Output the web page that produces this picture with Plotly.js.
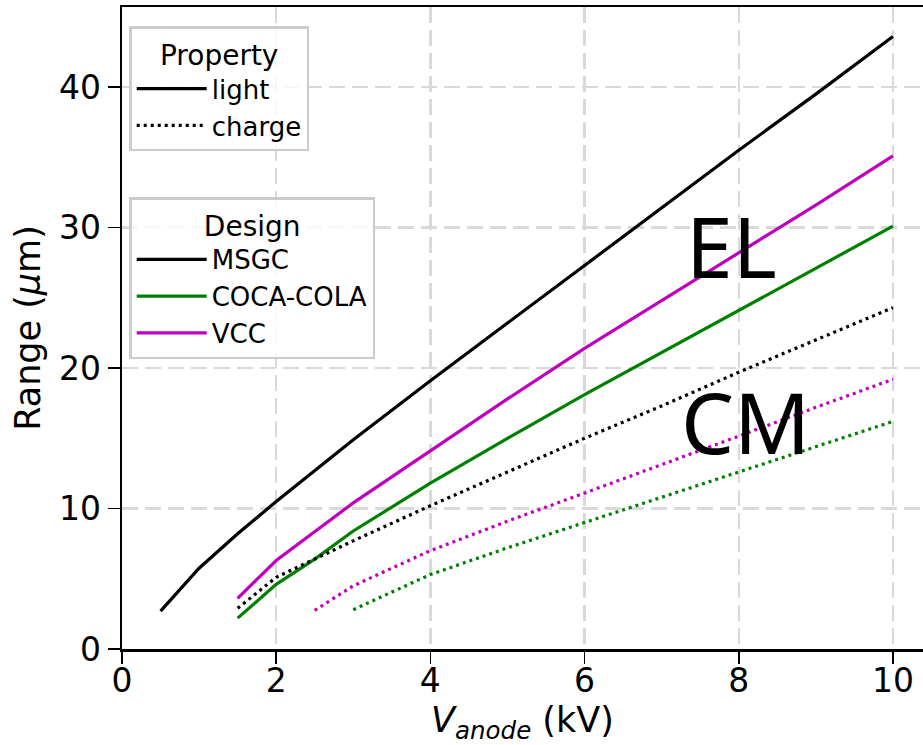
<!DOCTYPE html>
<html>
<head>
<meta charset="utf-8">
<script src="https://cdn.plot.ly/plotly-3.0.1.min.js"></script>
<style>html,body{margin:0;padding:0;background:#fff;overflow:hidden}#chart{width:923px;height:745px}</style>
</head>
<body>
<div id="chart"></div>
<script>
// Data (V_anode in kV, Range in µm)
const msgcLightV = [0.5, 1, 1.5, 2, 3, 4, 5, 6, 7, 8, 9, 10];
const msgcLightR = [2.7, 5.75, 8.2, 10.5, 14.9, 19.1, 23.2, 27.3, 31.4, 35.5, 39.5, 43.6];
const vccLightV = [1.5, 2, 3, 4, 5, 6, 7, 8, 9, 10];
const vccLightR = [3.6, 6.3, 10.4, 14.1, 17.8, 21.4, 24.8, 28.2, 31.6, 35.1];
const cocaLightV = [1.5, 2, 2.5, 3, 4, 5, 6, 7, 8, 9, 10];
const cocaLightR = [2.2, 4.6, 6.4, 8.4, 11.8, 15.0, 18.1, 21.1, 24.1, 27.1, 30.1];
const msgcChargeV = [1.5, 2, 3, 4, 5, 6, 7, 8, 9, 10];
const msgcChargeR = [2.9, 5.1, 7.7, 10.2, 12.6, 15.0, 17.3, 19.7, 22.0, 24.3];
const vccChargeV = [2.5, 3, 4, 5, 6, 7, 8, 9, 10];
const vccChargeR = [2.75, 4.5, 7.0, 9.1, 11.1, 13.1, 15.15, 17.2, 19.2];
const cocaChargeV = [3, 4, 5, 6, 7, 8, 9, 10];
const cocaChargeR = [2.8, 5.3, 7.2, 9.0, 10.8, 12.6, 14.4, 16.2];

const propertyNames = ['light', 'charge'];
const designNames = ['MSGC', 'COCA-COLA', 'VCC'];
const xTicks = [0, 2, 4, 6, 8, 10];
const yTicks = [0, 10, 20, 30, 40];

const BLACK = '#000000', GREEN = '#008000', MAGENTA = '#bf00bf';
const SOLID = 'solid', DOTTED = '3px,4px';
const LW = 3.2;

function series(x, y, color, dash) {
  return {x: x, y: y, type: 'scatter', mode: 'lines', showlegend: false,
          line: {color: color, width: LW, dash: dash}, hoverinfo: 'skip'};
}
function legendEntry(name, color, dash, legend) {
  return {x: [null], y: [null], type: 'scatter', mode: 'lines', name: name,
          legend: legend, showlegend: true,
          line: {color: color, width: LW, dash: dash}};
}

const data = [
  series(msgcLightV, msgcLightR, BLACK, SOLID),
  series(cocaLightV, cocaLightR, GREEN, SOLID),
  series(vccLightV, vccLightR, MAGENTA, SOLID),
  series(msgcChargeV, msgcChargeR, BLACK, DOTTED),
  series(cocaChargeV, cocaChargeR, GREEN, DOTTED),
  series(vccChargeV, vccChargeR, MAGENTA, DOTTED),
  legendEntry(propertyNames[0], BLACK, SOLID, 'legend'),
  legendEntry(propertyNames[1], BLACK, DOTTED, 'legend'),
  legendEntry(designNames[0], BLACK, SOLID, 'legend2'),
  legendEntry(designNames[1], GREEN, SOLID, 'legend2'),
  legendEntry(designNames[2], MAGENTA, SOLID, 'legend2')
];

const FONT = 'DejaVu Sans';
const gridCommon = {showgrid: true, gridcolor: '#d9d9d9', gridwidth: 2.5, griddash: '16px,7px'};
const legendCommon = {
  xanchor: 'left', yanchor: 'top', bgcolor: 'rgba(255,255,255,0.8)',
  bordercolor: '#cccccc', borderwidth: 2.5, itemwidth: 70,
  font: {family: FONT, size: 26, color: '#000'},
  traceorder: 'normal'
};

const layout = {
  width: 923, height: 745,
  margin: {l: 122, r: 0, t: 7, b: 96, pad: 0},
  paper_bgcolor: '#ffffff', plot_bgcolor: '#ffffff',
  font: {family: FONT, color: '#000'},
  xaxis: Object.assign({
    range: [0, 10.39], tickvals: xTicks, ticktext: xTicks.map(String),
    ticks: 'outside', ticklen: 12, tickwidth: 1.5, tickcolor: '#000',
    tickfont: {family: FONT, size: 33, color: '#000'}, ticklabelstandoff: -11,
    showline: true, linecolor: '#000', linewidth: 2.5, mirror: true,
    zeroline: false,
    title: {text: '<i>V</i><sub><i>anode</i></sub> (kV)', font: {family: FONT, size: 35, color: '#000'}, standoff: 10}
  }, gridCommon),
  yaxis: Object.assign({
    range: [0, 45.7], tickvals: yTicks, ticktext: yTicks.map(String),
    ticks: 'outside', ticklen: 12, tickwidth: 1.5, tickcolor: '#000',
    tickfont: {family: FONT, size: 33, color: '#000'},
    showline: true, linecolor: '#000', linewidth: 2.5, mirror: false,
    zeroline: false,
    title: {text: 'Range (<i>μ</i>m)', font: {family: FONT, size: 35, color: '#000'}, standoff: 8}
  }, gridCommon),
  legend: Object.assign({x: 0.009, y: 0.97,
    title: {text: 'Property', side: 'top center', font: {family: FONT, size: 28, color: '#000'}}}, legendCommon),
  legend2: Object.assign({x: 0.009, y: 0.704,
    title: {text: 'Design', side: 'top center', font: {family: FONT, size: 28, color: '#000'}}}, legendCommon),
  annotations: [
    {x: 7.9, y: 28.7, xref: 'x', yref: 'y', text: 'EL', showarrow: false,
     font: {family: 'Noto Sans', size: 84, color: '#000'}},
    {x: 8.09, y: 16.2, xref: 'x', yref: 'y', text: 'CM', showarrow: false,
     font: {family: 'Noto Sans', size: 84, color: '#000'}}
  ],
  showlegend: true
};

Plotly.newPlot('chart', data, layout, {displayModeBar: false, staticPlot: true});
</script>
</body>
</html>
